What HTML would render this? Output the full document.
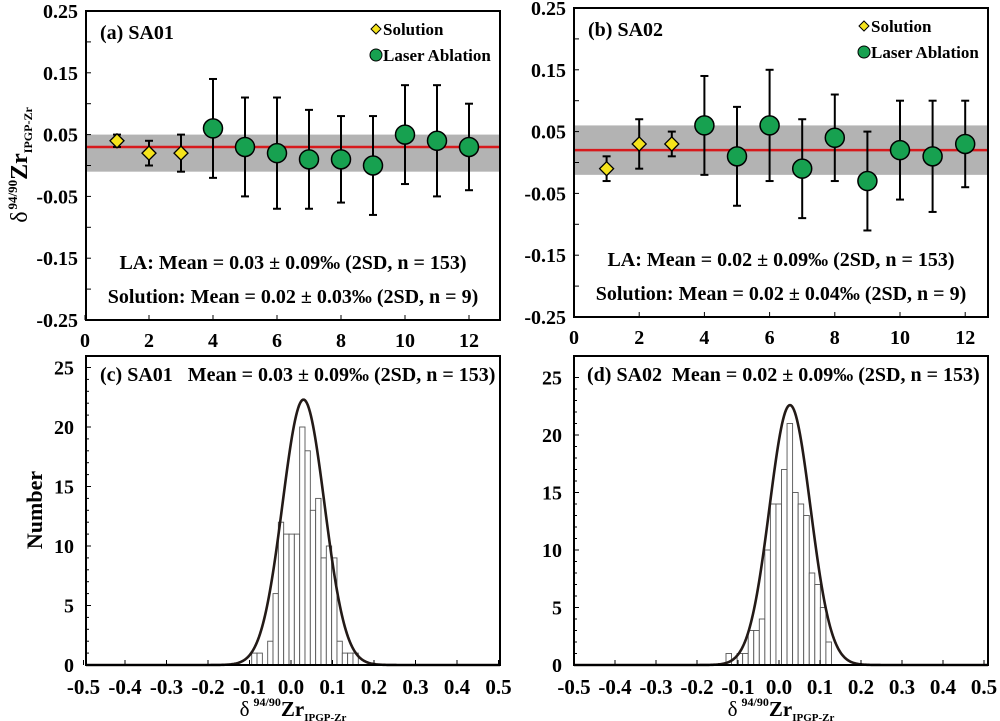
<!DOCTYPE html>
<html><head><meta charset="utf-8"><style>
html,body{margin:0;padding:0;background:#fff}
svg{display:block;font-family:"Liberation Serif",serif;font-weight:bold}
</style></head><body>
<svg id="s" width="1000" height="721" viewBox="0 0 1000 721" xmlns="http://www.w3.org/2000/svg"></svg>
<script>
const s=document.getElementById('s');let h='';
function L(x1,y1,x2,y2,c,w){h+=`<line x1="${x1}" y1="${y1}" x2="${x2}" y2="${y2}" stroke="${c||'#000'}" stroke-width="${w||1}"/>`;}
function T(x,y,t,sz,a,extra){h+=`<text x="${x}" y="${y}" font-size="${sz}" text-anchor="${a||'start'}" ${extra||''}>${t}</text>`;}
function scatter(F,data){
 const X=v=>F.x0+v*F.sx, Y=v=>F.yz-v*618;
 h+=`<rect x="${F.l}" y="${Y(F.band[1])}" width="${F.r-F.l}" height="${(F.band[1]-F.band[0])*618}" fill="#b3b3b3"/>`;
 L(F.l,Y(F.mean),F.r,Y(F.mean),'#d7191c',2.5);
 for(let v=-0.25;v<=0.2501;v+=0.05){const y=Y(v);L(F.l,y,F.l+5,y);}
 [0.25,0.15,0.05,-0.05,-0.15,-0.25].forEach(v=>T(F.l-8,Y(v)+7,v.toFixed(2),20,'end'));
 for(let i=0;i<=12;i+=2){L(X(i),F.b,X(i),F.b-5);T(X(i),F.b+27,i,20,'middle');}
 data.forEach((d,i)=>{const x=X(i+1);L(x,Y(d[1]),x,Y(d[2]),'#000',2);L(x-4,Y(d[1]),x+4,Y(d[1]),'#000',2);L(x-4,Y(d[2]),x+4,Y(d[2]),'#000',2);
  const y=Y(d[0]);
  if(i<3)h+=`<polygon points="${x},${y-7} ${x+7},${y} ${x},${y+7} ${x-7},${y}" fill="#f5e31b" stroke="#000" stroke-width="1.3"/>`;
  else h+=`<circle cx="${x}" cy="${y}" r="9.5" fill="#17a150" stroke="#000" stroke-width="1.5"/>`;});
 h+=`<rect x="${F.l}" y="${F.t}" width="${F.r-F.l}" height="${F.b-F.t}" fill="none" stroke="#000" stroke-width="2"/>`;
 T(F.l+14,F.t+28,F.lab,20);
 const lx=F.r-124;
 h+=`<polygon points="${lx},${F.t+13} ${lx+5},${F.t+18} ${lx},${F.t+23} ${lx-5},${F.t+18}" fill="#f5e31b" stroke="#000"/>`;
 T(lx+7,F.t+24,'Solution',17);
 h+=`<circle cx="${lx}" cy="${F.t+44}" r="6" fill="#17a150" stroke="#000"/>`;
 T(lx+7,F.t+50,'Laser Ablation',17);
 T((F.l+F.r)/2,F.t+258,F.t1,20,'middle');T((F.l+F.r)/2,F.t+292,F.t2,20,'middle');
}
scatter({l:86,r:500,t:11,b:320,x0:85,sx:32,yz:165.5,band:[-0.01,0.05],mean:0.03,lab:'(a) SA01',
 t1:'LA: Mean = 0.03 ± 0.09‰ (2SD, n = 153)',t2:'Solution: Mean = 0.02 ± 0.03‰ (2SD, n = 9)'},
 [[0.04,0.03,0.05],[0.02,0.0,0.04],[0.02,-0.01,0.05],[0.06,-0.02,0.14],[0.03,-0.05,0.11],[0.02,-0.07,0.11],[0.01,-0.07,0.09],[0.01,-0.06,0.08],[0.0,-0.08,0.08],[0.05,-0.03,0.13],[0.04,-0.05,0.13],[0.03,-0.04,0.10]]);
scatter({l:574,r:988,t:8,b:317,x0:574,sx:32.6,yz:162.5,band:[-0.02,0.06],mean:0.02,lab:'(b) SA02',
 t1:'LA: Mean = 0.02 ± 0.09‰ (2SD, n = 153)',t2:'Solution: Mean = 0.02 ± 0.04‰ (2SD, n = 9)'},
 [[-0.01,-0.03,0.01],[0.03,-0.01,0.07],[0.03,0.01,0.05],[0.06,-0.02,0.14],[0.01,-0.07,0.09],[0.06,-0.03,0.15],[-0.01,-0.09,0.07],[0.04,-0.03,0.11],[-0.03,-0.11,0.05],[0.02,-0.06,0.10],[0.01,-0.08,0.10],[0.03,-0.04,0.10]]);
function hist(F){
 const X=v=>F.xm+v*F.sx*10,Y=v=>F.b-v*F.sy;
 F.bars.forEach((c,i)=>{if(c>0)h+=`<rect x="${F.bs+i*F.bw}" y="${Y(c)}" width="${F.bw}" height="${c*F.sy}" fill="#fff" stroke="#555" stroke-width="0.9"/>`;});
 let p='';for(let x=F.l;x<=F.r;x+=1){const y=Y(F.pk*Math.exp(-Math.pow((x-F.mu)/F.sg,2)/2));p+=(p?'L':'M')+x+','+y.toFixed(2);}
 h+=`<path d="${p}" fill="none" stroke="#231a17" stroke-width="2.6"/>`;
 for(let v=0;v<=25;v++){L(F.l,Y(v),F.l+(v%5?3:5),Y(v));}
 for(let v=0;v<=25;v+=5)T(F.l-12,Y(v)+7,v,20,'end');
 for(let k=-5;k<=5;k++){const x=X(k/10);L(x,F.b,x,F.b-5);T(x,F.b+29,(k<0?'-':'')+(Math.abs(k)/10).toFixed(1),21,'middle');}
 h+=`<rect x="${F.l}" y="${F.t}" width="${F.r-F.l}" height="${F.b-F.t}" fill="none" stroke="#000" stroke-width="2"/>`;
 T(F.tx,F.t+25,F.title,20,'start','xml:space="preserve"');
 h+=`<text x="${(F.l+F.r)/2}" y="716" font-size="21" text-anchor="middle"><tspan font-weight="normal">δ</tspan><tspan font-size="12" dy="-10" dx="4">94/90</tspan><tspan dy="10">Zr</tspan><tspan font-size="11" dy="5">IPGP-Zr</tspan></text>`;
}
hist({l:86,r:500,t:356,b:665,xm:291,sx:41.5,sy:11.9,bs:251.7,bw:5.33,bars:[1,1,0,2,6,12,11,11,11,20,18,13,14,9,10,9,2,1,1,1],pk:22.3,mu:303.5,sg:21,tx:100,title:'(c) SA01   Mean = 0.03 ± 0.09‰ (2SD, n = 153)'});
hist({l:574,r:988,t:356,b:665,xm:779,sx:41,sy:11.5,bs:726,bw:5.55,bars:[1,0,1,1,3,3,4,10,14,14,17,21,15,14,13,8,7,5,2],pk:22.6,mu:790,sg:20.5,tx:587,title:'(d) SA02  Mean = 0.02 ± 0.09‰ (2SD, n = 153)'});
h+=`<text transform="translate(27,165) rotate(-90)" font-size="24" text-anchor="middle"><tspan font-weight="normal">δ</tspan><tspan font-size="13" dy="-10" dx="2">94/90</tspan><tspan dy="10">Zr</tspan><tspan font-size="12" dy="5">IPGP-Zr</tspan></text>`;
h+=`<text transform="translate(42,510) rotate(-90)" font-size="22" text-anchor="middle">Number</text>`;
s.innerHTML=h;
</script>
</body></html>
